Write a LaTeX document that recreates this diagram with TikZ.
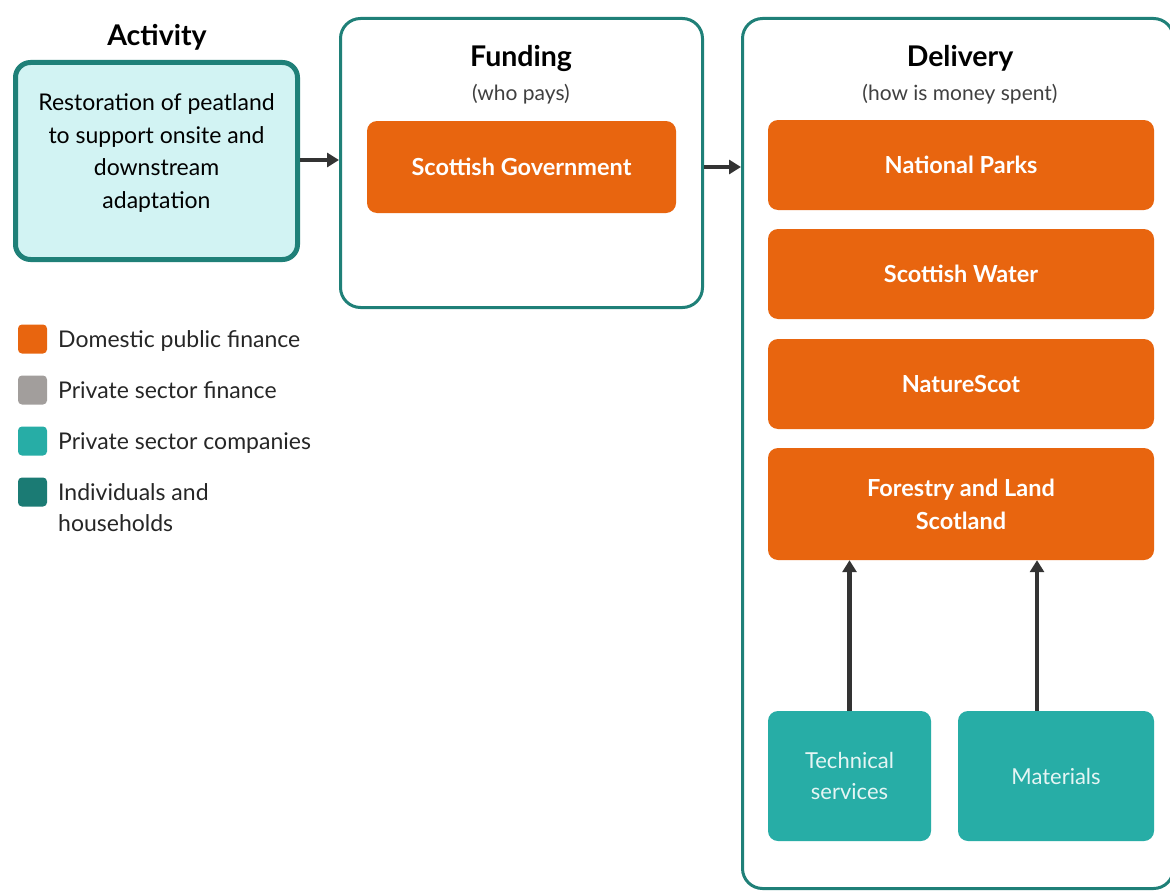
\documentclass[tikz,border=0pt]{standalone}
\usepackage{fontspec}
\setmainfont{Lato}
\usetikzlibrary{arrows.meta,positioning}

\definecolor{pubfin}{HTML}{E8650F}
\definecolor{privfin}{HTML}{A29E9C}
\definecolor{privco}{HTML}{27ADA6}
\definecolor{indiv}{HTML}{1B7B74}
\definecolor{frame}{HTML}{1F8078}
\definecolor{actfill}{HTML}{D2F3F3}
\definecolor{flow}{HTML}{333333}

\tikzset{
  stage/.style={draw=frame, line width=3pt, rounded corners=20pt, fill=white},
  title/.style={font=\bfseries\fontsize{28.5}{32}\selectfont, text=black},
  subtitle/.style={font=\fontsize{21}{24}\selectfont, text=black!75},
  public/.style={fill=pubfin, rounded corners=10pt, text=white, align=center,
    font=\bfseries\fontsize{23.5}{33}\selectfont, minimum width=386pt},
  company/.style={fill=privco, rounded corners=10pt, text=white!88!privco, align=center,
    font=\fontsize{22}{31}\selectfont, minimum height=130pt},
  key/.style={minimum size=29pt, inner sep=0pt, rounded corners=4pt},
  keytext/.style={anchor=base west, align=left, inner sep=0pt, text=black!85,
    font=\fontsize{23}{31}\selectfont},
  flowarrow/.style={draw=flow, line width=4.5pt, -{Triangle[length=12pt,width=14pt]}}
}

\begin{document}
\begin{tikzpicture}[x=1pt,y=-1pt]
  \clip (0,0) rectangle (1170,891);
  \useasboundingbox (0,0) rectangle (1170,891);

  % activity
  \path (157,37) node[title](acttitle){Activity}
        (156.5,161) node[draw=frame, line width=5pt, rounded corners=15pt, fill=actfill,
          minimum width=282pt, minimum height=197pt](act){}
        (156.5,153) node[align=center, inner sep=0pt,
          font=\fontsize{23}{32.5}\selectfont](acttext){Restoration of peatland\\to support onsite and\\downstream\\adaptation};

  % funding
  \path (521.5,163) node[stage, minimum width=362pt, minimum height=289pt](fund){}
        (521,58) node[title](fundtitle){Funding}
        (521,94) node[subtitle](fundsub){(who pays)}
        (521.5,167) node[public, minimum width=309pt, minimum height=92pt](sg){Scottish Government};

  % delivery
  \path (958,453.5) node[stage, minimum width=431pt, minimum height=870pt](del){}
        (960,58) node[title](deltitle){Delivery}
        (960,94) node[subtitle](delsub){(how is money spent)}
        (961,165) node[public, minimum height=90pt](np){National Parks}
        (961,274) node[public, minimum height=90pt](sw){Scottish Water}
        (961,384) node[public, minimum height=90pt](ns){NatureScot}
        (961,504) node[public, minimum height=112pt](fls){Forestry and Land\\Scotland}
        (849.5,776) node[company, minimum width=163pt](tech){Technical\\services}
        (1056,776) node[company, minimum width=196pt](mat){Materials};

  \draw[flowarrow](act.east |- 0,160) -- (fund.west |- 0,160);
  \draw[flowarrow](sg.east -| fund.east) -- (sg.east -| del.west);
  \draw[flowarrow](tech.north) -- (tech.north |- fls.south);
  \draw[flowarrow]([xshift=-19pt]mat.north) -- ([xshift=-19pt]mat.north |- fls.south);

  % legend
  \path (32.5,339) node[key, fill=pubfin](k1){}
        (32.5,390) node[key, fill=privfin](k2){}
        (32.5,441) node[key, fill=privco](k3){}
        (32.5,492) node[key, fill=indiv](k4){};
  \path (58,347) node[keytext](t1){Domestic public finance}
        (58,398) node[keytext](t2){Private sector finance}
        (58,449) node[keytext](t3){Private sector companies}
        (58,531) node[keytext](t4){Individuals and\\households};
\end{tikzpicture}
\end{document}
